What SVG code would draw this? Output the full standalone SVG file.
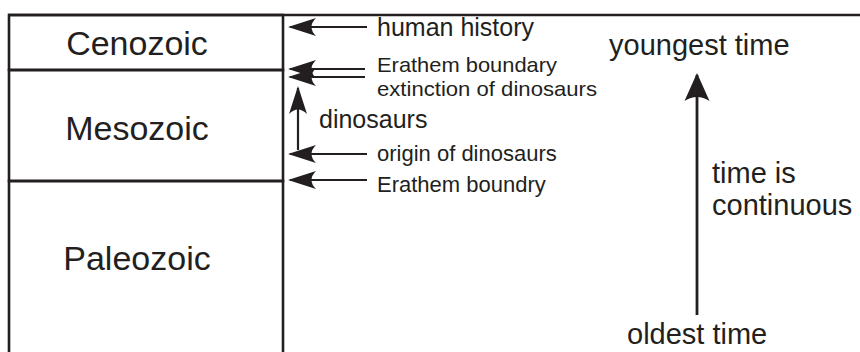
<svg xmlns="http://www.w3.org/2000/svg" width="860" height="352" viewBox="0 0 860 352">
<style>
.frame{fill:none;stroke:#231f20;stroke-width:2.6}
.era{font-family:"Liberation Sans",Arial,sans-serif;font-size:34px;fill:#231f20;text-anchor:middle}
.lbl{font-family:"Liberation Sans",Arial,sans-serif;font-size:22px;fill:#231f20}
.big{font-family:"Liberation Sans",Arial,sans-serif;font-size:29px;fill:#231f20}
.conn{fill:none;stroke:#231f20;stroke-width:2.2}
.bigconn{fill:none;stroke:#231f20;stroke-width:2.8}
</style>
<defs>
<marker id="ah" markerUnits="userSpaceOnUse" viewBox="-30 -11 32 22" markerWidth="32" markerHeight="22" refX="0" refY="0" orient="auto">
<path d="M2,0 L-26,-9 Q-17,0 -26,9 Z" fill="#231f20"/>
</marker>
<marker id="ahBig" markerUnits="userSpaceOnUse" viewBox="-32 -14 34 28" markerWidth="34" markerHeight="28" refX="0" refY="0" orient="auto">
<path d="M2,0 L-26,-12.5 Q-18,0 -26,12.5 Z" fill="#231f20"/>
</marker>
</defs>
<rect width="860" height="352" fill="#ffffff"/>
<line class="frame" x1="8" y1="15" x2="860" y2="15"/>
<g id="cenozoic">
<rect class="frame" x="9" y="15" width="274" height="55"/>
<text class="era" x="137" y="55">Cenozoic</text>
</g>
<g id="mesozoic">
<rect class="frame" x="9" y="70" width="274" height="111"/>
<text class="era" x="137" y="140">Mesozoic</text>
</g>
<g id="paleozoic">
<rect class="frame" x="9" y="181" width="274" height="180"/>
<text class="era" x="137" y="270">Paleozoic</text>
</g>
<g id="labels">
<text class="lbl" x="377" y="36" style="font-size:25px">human history</text>
<text class="lbl" x="377" y="71.5" style="font-size:21px" textLength="180" lengthAdjust="spacingAndGlyphs">Erathem boundary</text>
<text class="lbl" x="377" y="95.5" style="font-size:21px" textLength="220" lengthAdjust="spacingAndGlyphs">extinction of dinosaurs</text>
<text class="lbl" x="319" y="128" style="font-size:25px">dinosaurs</text>
<text class="lbl" x="377" y="161">origin of dinosaurs</text>
<text class="lbl" x="377" y="192">Erathem boundry</text>
<text class="big" x="609" y="55">youngest time</text>
<text class="big" x="712" y="183">time is</text>
<text class="big" x="712" y="215">continuous</text>
<text class="big" x="627" y="344">oldest time</text>
</g>
<g id="connectors">
<line class="conn" x1="367" y1="27" x2="290" y2="27" marker-end="url(#ah)"/>
<line class="conn" x1="365" y1="69" x2="290" y2="69" marker-end="url(#ah)"/>
<line class="conn" x1="365" y1="77" x2="290" y2="77" marker-end="url(#ah)"/>
<line class="conn" x1="298" y1="150" x2="298" y2="88" marker-end="url(#ah)"/>
<line class="conn" x1="367" y1="154" x2="290" y2="154" marker-end="url(#ah)"/>
<line class="conn" x1="367" y1="180" x2="290" y2="180" marker-end="url(#ah)"/>
<line class="bigconn" x1="697" y1="315" x2="697" y2="75" marker-end="url(#ahBig)"/>
</g>
</svg>
